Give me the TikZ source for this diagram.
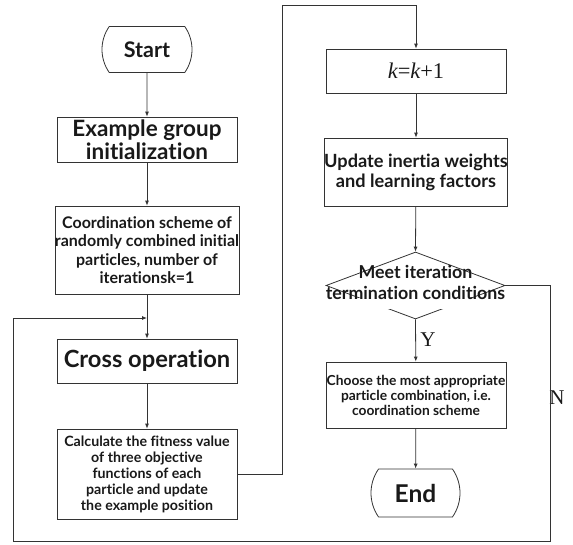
\documentclass[tikz,border=0pt]{standalone}
\usepackage{fontspec}
\setmainfont{Lato}[Ligatures=NoCommon]
\newfontfamily\serifff{Liberation Serif}
\usetikzlibrary{shapes.geometric,shapes.misc,arrows.meta}
\begin{document}
\begin{tikzpicture}[x=1pt,y=-1pt,
  line/.style={draw=black!80, line width=0.8pt},
  arr/.style={line, -{Latex[length=5pt,width=4pt]}},
  box/.style={draw=black!80, line width=0.8pt, rectangle, minimum width=180pt, inner sep=0pt, align=center, text=black!90},
  term/.style={draw=black!80, line width=0.8pt, rounded rectangle, rounded rectangle arc length=70, minimum width=90pt, minimum height=46pt, inner sep=0pt, text=black!90},
  lbl/.style={inner sep=0pt, text=black!90, font=\serifff\fontsize{21}{24}\selectfont},
]
\useasboundingbox (0,0) rectangle (573,544);

% left column
\node[term, font=\bfseries\fontsize{21.5}{24}\selectfont] (S) at (147,49.5) {Start};
\node[box, minimum height=45pt, font=\bfseries\fontsize{22.5}{23}\selectfont] (B1) at (147,139.5) {Example group\\initialization};
\node[box, minimum height=88pt, font=\bfseries\fontsize{16}{18.3}\selectfont] (B2) at (147,250) {Coordination scheme of\\randomly combined initial\\particles, number of\\iterationsk=1};
\node[box, minimum height=44pt, font=\bfseries\fontsize{23.7}{26}\selectfont] (B3) at (147,361) {Cross operation};
\node[box, minimum height=90pt, font=\bfseries\fontsize{14.2}{16}\selectfont] (B4) at (147,474) {Calculate the fitness value\\of three objective\\functions of each\\particle and update\\the example position};

% right column
\node[box, minimum height=44pt, font=\serifff\fontsize{22.4}{26}\selectfont] (K) at (416,71) {\itshape k\upshape=\itshape k\upshape+1};
\node[box, minimum height=68pt, font=\bfseries\fontsize{18.2}{20}\selectfont] (U) at (416,172) {Update inertia weights\\and learning factors};
\node[diamond, draw=black!80, line width=0.8pt, minimum width=179pt, minimum height=67pt, inner sep=0pt] (D) at (415.5,285.5) {};
\fill[white] (338,298) rectangle (494,309);
\node[inner sep=0pt, align=center, text=black!90, font=\bfseries\fontsize{17.8}{21}\selectfont] (Dt) at (415.5,282.5) {Meet iteration\\termination conditions};
\node[box, minimum height=66pt, font=\bfseries\fontsize{13.8}{15}\selectfont] (C) at (416,395) {Choose the most appropriate\\particle combination, i.e.\\coordination scheme};
\node[term, minimum width=89pt, minimum height=48pt, font=\bfseries\fontsize{24.5}{26}\selectfont] (E) at (415.5,493) {End};

\node[lbl] (Y) at (428,340) {Y};
\node[lbl] (N) at (557,398) {N};

\coordinate (M) at (147,318);
\coordinate (T) at (282,5);
\coordinate (R) at (550,541);
\coordinate (L) at (13,318);

\draw[arr] (S) -- (B1);
\draw[arr] (B1) -- (B2);
\draw[arr] (B2) -- (B3);
\draw[arr] (B3) -- (B4);
\draw[arr] (B4.east) -| (T) -| (K.north);
\draw[arr] (K) -- (U);
\draw[arr] (U) -- (D.north);
\draw[arr] (D.south) -- (C);
\draw[arr] (C) -- (E);
\draw[arr] (D.east) -| (R) -| (L) -- (M);
\end{tikzpicture}
\end{document}
